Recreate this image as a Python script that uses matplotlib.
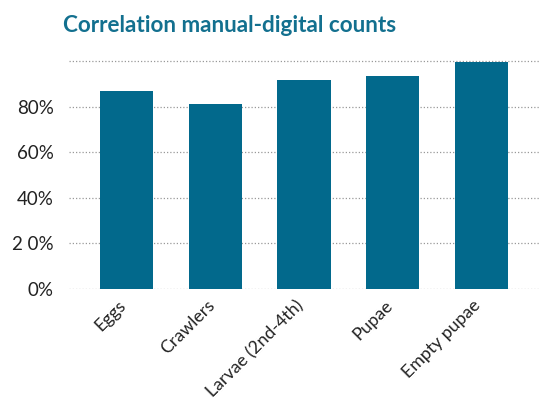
import matplotlib
matplotlib.use("Agg")
import matplotlib.pyplot as plt
from matplotlib.transforms import ScaledTranslation

categories = ["Eggs", "Crawlers", "Larvae (2nd-4th)", "Pupae", "Empty pupae"]
correlation = [0.87, 0.813, 0.918, 0.937, 0.999]
tick_values = [0.0, 0.2, 0.4, 0.6, 0.8, 1.0]
tick_labels = ["0%", "2 0%", "40%", "60%", "80%", ""]

bar_color = "#02698c"
title_color = "#13708f"

plt.rcParams["font.family"] = ["Lato", "DejaVu Sans"]

fig = plt.figure(figsize=(5.41, 4.03), dpi=100)
ax = fig.add_axes([0.1275, 0.2829, 0.8705, 0.5761])

x = range(len(categories))
ax.bar(x, correlation, width=0.6, color=bar_color, zorder=3)

ax.set_xlim(-0.65, 4.66)
ax.set_ylim(0, 1.02)
ax.set_yticks(tick_values)
ax.set_yticklabels(tick_labels, fontsize=13.5, color="#222222")
ax.yaxis.grid(True, color="#999999", linestyle=(0, (1, 1.6)), linewidth=0.9, zorder=0)
ax.tick_params(axis="y", length=0, pad=11)
ax.tick_params(axis="x", length=0, pad=0)
ax.set_xticks(list(x))
ax.set_xticklabels(categories, rotation=45, ha="right", va="center",
                   rotation_mode="anchor", fontsize=12.8, color="#222222")
shift = ScaledTranslation(-3 / 100, -14 / 100, fig.dpi_scale_trans)
for lbl in ax.get_xticklabels():
    lbl.set_transform(lbl.get_transform() + shift)
for s in ax.spines.values():
    s.set_visible(False)

fig.text(0.117, 1 - 32 / 403, "Correlation manual-digital counts", fontsize=16.2,
         fontweight="bold", color=title_color, ha="left", va="baseline")

fig.savefig("out.png", dpi=100)
